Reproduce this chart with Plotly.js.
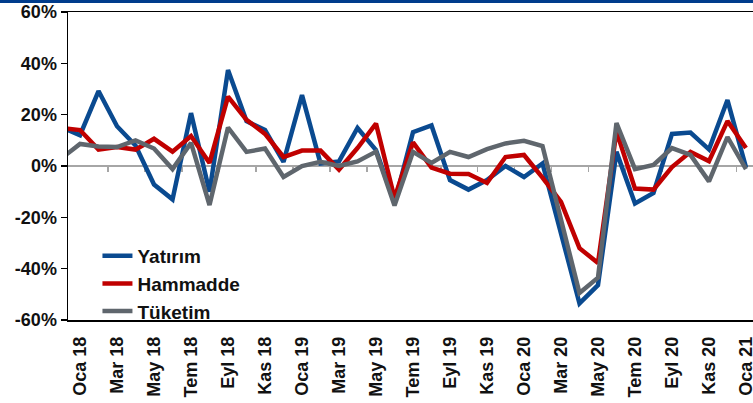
<!DOCTYPE html>
<html>
<head>
<meta charset="utf-8">
<script src="https://cdn.plot.ly/plotly-3.0.1.min.js"></script>
<style>
html,body{margin:0;padding:0;background:#fff;}
#topbar{position:absolute;left:0;top:0;width:753px;height:3px;background:#003C8C;z-index:5;}
#chart{width:753px;height:403px;}
</style>
</head>
<body>
<div id="topbar"></div>
<div id="chart"></div>
<script>
const months = ["Ara 17","Oca 18","Şub 18","Mar 18","Nis 18","May 18","Haz 18","Tem 18","Ağu 18","Eyl 18","Eki 18","Kas 18","Ara 18",
  "Oca 19","Şub 19","Mar 19","Nis 19","May 19","Haz 19","Tem 19","Ağu 19","Eyl 19","Eki 19","Kas 19","Ara 19",
  "Oca 20","Şub 20","Mar 20","Nis 20","May 20","Haz 20","Tem 20","Ağu 20","Eyl 20","Eki 20","Kas 20","Ara 20","Oca 21"];

const yatirim = [15.1, 12, 29.2, 15.5, 8, -7.2, -13, 20.6, -10, 37.4, 17.5, 14, 1.6,
  27.6, 1, 1.8, 14.8, 6.2, -14.4, 13.2, 15.8, -5.5, -9.2, -5.5, 0,
  -4.3, 1, -26, -53.5, -46.4, 5.5, -14.6, -10.5, 12.5, 13, 6.5, 25.7, -0.5];

const hammadde = [14.8, 14, 6.4, 7.4, 6.4, 10.6, 5.6, 11.7, 1.2, 27, 18, 12.5, 3.5,
  6, 6, -1.4, 7, 16.5, -12.5, 9.2, -0.6, -3, -3.1, -6.6, 3.5,
  4.3, -4.5, -14, -32, -37.8, 13.5, -8.8, -9.2, -0.4, 5.5, 1.9, 17.5, 7];

const tuketim = [3, 8.6, 7.6, 7.4, 10, 6.8, -1.2, 9, -15.2, 15, 5.5, 6.8, -4.3,
  0, 1.6, 0, 1.8, 5.6, -15.4, 5.5, 1.2, 5.5, 3.5, 6.6, 8.8,
  9.8, 7.8, -21, -49.5, -43.5, 16.7, -1.2, 0.4, 7, 4.3, -6, 11.3, -1.2];

const seriesNames = ["Yatırım", "Hammadde", "Tüketim"];
const seriesColors = ["#0A4A90", "#C00000", "#5F666D"];

const yTicks = [-60, -40, -20, 0, 20, 40, 60];
const yTickText = yTicks.map(v => v + "%");
const xTickLabels = months.filter((m, i) => i % 2 === 1);
const minorTickPos = [];
for (let i = 2.5; i < months.length; i += 2) minorTickPos.push(i);

const font = "Liberation Sans, Arial, sans-serif";
const data = [yatirim, hammadde, tuketim].map((vals, k) => ({
  type: "scatter", mode: "lines", x: months, y: vals, name: seriesNames[k],
  line: {color: seriesColors[k], width: 4.5}, hoverinfo: "skip"
}));
data.push({type:"scatter", mode:"lines", x:[null], y:[null], xaxis:"x2", yaxis:"y", showlegend:false, hoverinfo:"skip"});

const layout = {
  width: 753, height: 403,
  margin: {l: 68, r: 0, t: 12, b: 83},
  paper_bgcolor: "#fff", plot_bgcolor: "#fff",
  showlegend: true,
  legend: {x: 0.043, y: 0.27, xanchor: "left", yanchor: "top", bgcolor: "rgba(0,0,0,0)",
    font: {family: font, size: 19, color: "#111", weight: "bold"}},
  xaxis: {
    type: "category", categoryorder: "array", categoryarray: months,
    range: [0.35, 37.38],
    tickmode: "array", tickvals: xTickLabels, ticktext: xTickLabels,
    tickangle: -90, ticks: "", ticklabelstandoff: 8, showgrid: false, zeroline: false,
    showline: true, linecolor: "#000", linewidth: 1.5, mirror: true,
    tickfont: {family: font, size: 18, color: "#111", weight: "bold"}
  },
  xaxis2: {
    type: "linear", overlaying: "x", anchor: "free", position: 0.5,
    range: [0.35, 37.38], tickmode: "array", tickvals: minorTickPos,
    showticklabels: false, ticks: "outside", ticklen: 5, tickwidth: 1.5, tickcolor: "#A6A6A6",
    showline: false, showgrid: false, zeroline: false, layer: "below traces"
  },
  yaxis: {
    range: [-60, 60], tickmode: "array", tickvals: yTicks, ticktext: yTickText,
    ticks: "outside", ticklen: 6, tickwidth: 1.5, tickcolor: "#000",
    showline: true, linecolor: "#000", linewidth: 1.5, showgrid: false,
    zeroline: true, zerolinecolor: "#A6A6A6", zerolinewidth: 1.5,
    tickfont: {family: font, size: 18, color: "#111", weight: "bold"}
  }
};

Plotly.newPlot("chart", data, layout, {displayModeBar: false, staticPlot: true});
</script>
</body>
</html>
